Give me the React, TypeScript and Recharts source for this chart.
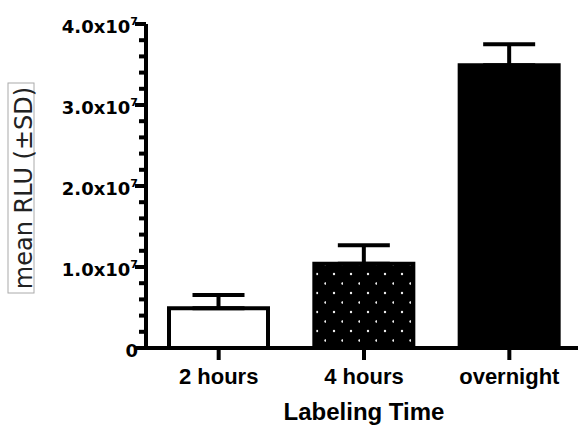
import { BarChart, Bar, XAxis, YAxis, Cell, ErrorBar } from 'recharts'

const categories = ['2 hours', '4 hours', 'overnight']
const meanRlu = [4.9e6, 1.04e7, 3.49e7]
const sdRlu = [1.65e6, 2.3e6, 2.6e6]
const yTicks = [
  0, 2e6, 4e6, 6e6, 8e6, 1e7, 1.2e7, 1.4e7, 1.6e7, 1.8e7, 2e7,
  2.2e7, 2.4e7, 2.6e7, 2.8e7, 3e7, 3.2e7, 3.4e7, 3.6e7, 3.8e7, 4e7,
]
const majorTicks = [0, 1e7, 2e7, 3e7, 4e7]
const barFills = ['#ffffff', 'url(#dots)', '#000000']

const data = categories.map((name, i) => ({
  name,
  value: meanRlu[i],
  err: [0, sdRlu[i]],
}))

const heavy = { fontFamily: 'DejaVu Sans', fontWeight: 'bold' as const }
const arialBold = { fontFamily: '"Liberation Sans", Arial', fontWeight: 'bold' as const }

function YTick(props: any) {
  const { x, y, payload } = props
  const v = payload.value
  const major = majorTicks.includes(v)
  return (
    <g>
      <line x1={x - (major ? 11 : 7)} x2={x} y1={y} y2={y} stroke="#000" strokeWidth={4} />
      {major && (
        <text x={x - 8} y={y + 9} textAnchor="end" fontSize={18} fill="#000" style={heavy}>
          {v === 0 ? (
            '0'
          ) : (
            <>
              {(v / 1e7).toFixed(1)}x10
              <tspan fontSize={11} dy={-8}>7</tspan>
            </>
          )}
        </text>
      )}
    </g>
  )
}

function YLabel(props: any) {
  const vb = props.viewBox || { y: 24, height: 324 }
  const cy = vb.y + vb.height / 2 + 2
  return (
    <g>
      <rect x={8} y={cy - 105} width={26} height={210} fill="none" stroke="#aaa" strokeWidth={1} />
      <text
        transform={`translate(32,${cy}) rotate(-90)`}
        textAnchor="middle"
        fontSize={24}
        fontFamily="DejaVu Sans"
        fill="#222"
      >
        mean RLU (±SD)
      </text>
    </g>
  )
}

export default function App() {
  return (
    <div style={{ position: 'absolute', left: 0, top: 0, width: 578, height: 425, overflow: 'hidden', background: '#fff' }}>
      <BarChart
        width={590}
        height={425}
        data={data}
        margin={{ top: 24, right: 8, bottom: 0, left: 0 }}
      >
        <defs>
          <pattern id="dots" width={17} height={19} patternUnits="userSpaceOnUse" x={3} y={0}>
            <rect width={17} height={19} fill="#000" />
            <circle cx={8} cy={8} r={1.2} fill="#eee" />
            <circle cx={16.5} cy={17.5} r={1.2} fill="#eee" />
          </pattern>
        </defs>
        <XAxis
          dataKey="name"
          height={77}
          axisLine={{ stroke: '#000', strokeWidth: 4 }}
          tickLine={{ stroke: '#000', strokeWidth: 4 }}
          tickSize={12}
          tickMargin={8}
          tick={{ fill: '#000', fontSize: 22, ...arialBold }}
          label={{ value: 'Labeling Time', position: 'insideBottom', offset: 5, fill: '#000', fontSize: 24, ...arialBold }}
        />
        <YAxis
          width={146}
          domain={[0, 4e7]}
          ticks={yTicks}
          interval={0}
          tickLine={false}
          tickSize={0}
          tickMargin={0}
          axisLine={{ stroke: '#000', strokeWidth: 4 }}
          tick={<YTick />}
          label={<YLabel />}
        />
        <Bar dataKey="value" barSize={99} stroke="#000" strokeWidth={4} isAnimationActive={false}>
          {data.map((d, i) => (
            <Cell key={d.name} fill={barFills[i]} />
          ))}
          <ErrorBar dataKey="err" width={26} stroke="#000" strokeWidth={4} isAnimationActive={false} />
        </Bar>
      </BarChart>
    </div>
  )
}
